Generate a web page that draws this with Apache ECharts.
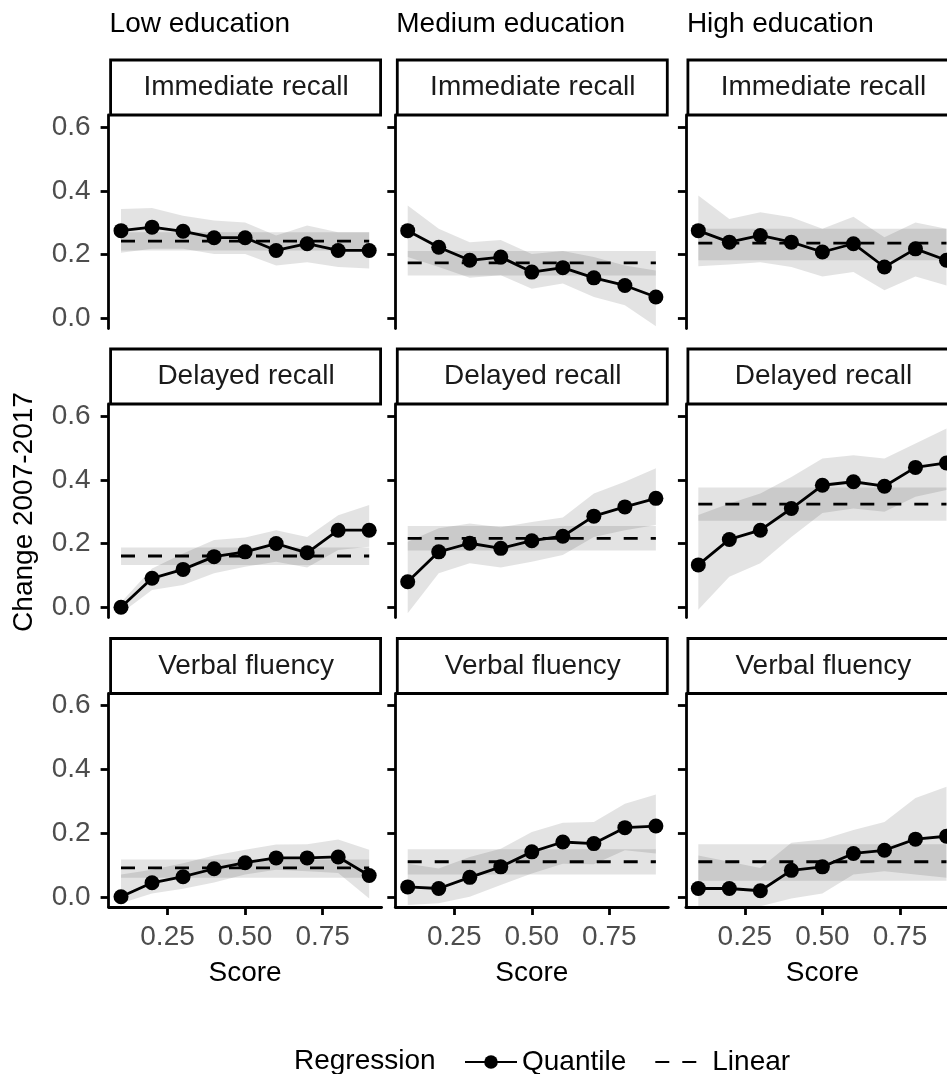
<!DOCTYPE html>
<html>
<head>
<meta charset="utf-8">
<script src="https://cdn.jsdelivr.net/npm/echarts@6/dist/echarts.min.js"></script>
<style>
  html, body { margin: 0; padding: 0; background: #fff; }
  #chart { width: 947px; height: 1074px; }
</style>
</head>
<body>
<div id="chart"></div>
<script>
// score quantiles on the x axis
const scores = [0.1, 0.2, 0.3, 0.4, 0.5, 0.6, 0.7, 0.8, 0.9];
const educationLevels = ['Low education', 'Medium education', 'High education'];
const tests = ['Immediate recall', 'Delayed recall', 'Verbal fluency'];
const yTicks = [0, 0.2, 0.4, 0.6];
const xTicks = [0.25, 0.5, 0.75];

// quantile regression: estimate, lower and upper CI
const lowImmEst = [0.275, 0.286, 0.273, 0.253, 0.253, 0.213, 0.234, 0.213, 0.213];
const lowImmLo = [0.206, 0.218, 0.218, 0.202, 0.202, 0.166, 0.176, 0.161, 0.156];
const lowImmHi = [0.343, 0.346, 0.322, 0.307, 0.301, 0.260, 0.291, 0.270, 0.270];
const lowDelEst = [0.0, 0.091, 0.119, 0.159, 0.174, 0.200, 0.171, 0.242, 0.242];
const lowDelLo = [-0.019, 0.054, 0.070, 0.107, 0.127, 0.143, 0.125, 0.180, 0.190];
const lowDelHi = [0.015, 0.122, 0.169, 0.211, 0.219, 0.242, 0.221, 0.289, 0.321];
const lowVerEst = [0.0, 0.044, 0.063, 0.088, 0.107, 0.122, 0.122, 0.125, 0.067];
const lowVerLo = [-0.020, 0.010, 0.025, 0.045, 0.070, 0.085, 0.080, 0.075, -0.005];
const lowVerHi = [0.070, 0.085, 0.105, 0.130, 0.148, 0.164, 0.165, 0.180, 0.148];

const medImmEst = [0.275, 0.223, 0.182, 0.192, 0.145, 0.159, 0.127, 0.103, 0.067];
const medImmLo = [0.192, 0.161, 0.127, 0.135, 0.093, 0.109, 0.067, 0.041, -0.025];
const medImmHi = [0.354, 0.281, 0.239, 0.246, 0.202, 0.211, 0.192, 0.166, 0.150];
const medDelEst = [0.080, 0.174, 0.201, 0.185, 0.209, 0.223, 0.286, 0.315, 0.342];
const medDelLo = [-0.019, 0.107, 0.138, 0.125, 0.143, 0.164, 0.221, 0.242, 0.258];
const medDelHi = [0.206, 0.248, 0.263, 0.251, 0.268, 0.282, 0.357, 0.394, 0.436];
const medVerEst = [0.031, 0.026, 0.061, 0.094, 0.141, 0.172, 0.167, 0.217, 0.222];
const medVerLo = [-0.026, -0.020, 0.0, 0.037, 0.073, 0.104, 0.102, 0.146, 0.136];
const medVerHi = [0.104, 0.089, 0.125, 0.151, 0.203, 0.232, 0.235, 0.292, 0.321];

const highImmEst = [0.275, 0.239, 0.260, 0.239, 0.208, 0.234, 0.161, 0.218, 0.182];
const highImmLo = [0.163, 0.169, 0.176, 0.161, 0.131, 0.145, 0.088, 0.131, 0.103];
const highImmHi = [0.385, 0.312, 0.333, 0.317, 0.281, 0.319, 0.254, 0.301, 0.281];
const highDelEst = [0.133, 0.213, 0.242, 0.310, 0.383, 0.394, 0.380, 0.439, 0.453];
const highDelLo = [-0.008, 0.096, 0.138, 0.221, 0.296, 0.310, 0.300, 0.347, 0.368];
const highDelHi = [0.290, 0.326, 0.357, 0.409, 0.467, 0.477, 0.467, 0.514, 0.561];
const highVerEst = [0.026, 0.026, 0.019, 0.083, 0.094, 0.136, 0.146, 0.181, 0.190];
const highVerLo = [-0.030, -0.030, -0.030, -0.005, 0.010, 0.070, 0.080, 0.070, 0.060];
const highVerHi = [0.130, 0.110, 0.090, 0.170, 0.180, 0.210, 0.235, 0.310, 0.345];

// linear regression: [estimate, lower, upper] per test
const lowLinear = [[0.242, 0.213, 0.270], [0.161, 0.133, 0.188], [0.091, 0.060, 0.117]];
const medLinear = [[0.174, 0.134, 0.211], [0.216, 0.178, 0.255], [0.110, 0.070, 0.149]];
const highLinear = [[0.236, 0.182, 0.281], [0.324, 0.272, 0.376], [0.110, 0.050, 0.165]];

const quantile = [
  [[lowImmEst, lowImmLo, lowImmHi], [lowDelEst, lowDelLo, lowDelHi], [lowVerEst, lowVerLo, lowVerHi]],
  [[medImmEst, medImmLo, medImmHi], [medDelEst, medDelLo, medDelHi], [medVerEst, medVerLo, medVerHi]],
  [[highImmEst, highImmLo, highImmHi], [highDelEst, highDelLo, highDelHi], [highVerEst, highVerLo, highVerHi]]
];
const linear = [lowLinear, medLinear, highLinear];

const font = 'Liberation Sans';
const fontSize = 28;
const colLeft = [108.6, 395.3, 685.9];
const rowTop = [115, 404, 693.5];
const panelW = 273;
const panelH = 213.5;
const stripH = 55;
const ribbonFill = 'rgba(0,0,0,0.11)';
const lineW = 2.8;

const chart = echarts.init(document.getElementById('chart'));

const grids = [], xAxes = [], yAxes = [], series = [], graphics = [];

function ribbon(idx, lo, hi) {
  return {
    type: 'custom',
    xAxisIndex: idx,
    yAxisIndex: idx,
    clip: true,
    silent: true,
    z: 1,
    data: [0],
    renderItem: (params, api) => {
      const top = scores.map((s, i) => api.coord([s, hi[i]]));
      const bottom = scores.map((s, i) => api.coord([s, lo[i]])).reverse();
      return {
        type: 'polygon',
        shape: { points: top.concat(bottom) },
        style: { fill: ribbonFill }
      };
    }
  };
}

for (let c = 0; c < 3; c++) {
  graphics.push({
    type: 'text',
    x: colLeft[c] + 1,
    y: 24,
    style: { text: educationLevels[c], font: fontSize + 'px "' + font + '"', fill: '#000', verticalAlign: 'middle' }
  });
  for (let r = 0; r < 3; r++) {
    const idx = c * 3 + r;
    const [est, lo, hi] = quantile[c][r];
    const [linEst, linLo, linHi] = linear[c][r];
    const bottomRow = r === 2;

    // the right column runs past the window, as in the cropped original
    grids.push({
      left: colLeft[c], top: rowTop[r], width: panelW, height: panelH,
      outerBoundsMode: 'none'
    });
    xAxes.push({
      gridIndex: idx,
      type: 'value',
      min: 0.06,
      max: 0.94,
      splitLine: { show: false },
      axisLine: { show: bottomRow, onZero: false, lineStyle: { color: '#000', width: lineW } },
      axisTick: { show: bottomRow, customValues: xTicks, length: 8, lineStyle: { color: '#000', width: lineW } },
      axisLabel: {
        show: bottomRow, customValues: xTicks, margin: 16,
        color: '#4d4d4d', fontFamily: font, fontSize: fontSize,
        formatter: v => v.toFixed(2)
      },
      name: bottomRow ? 'Score' : '',
      nameLocation: 'middle',
      nameGap: 52,
      nameTextStyle: { color: '#000', fontFamily: font, fontSize: fontSize }
    });
    yAxes.push({
      gridIndex: idx,
      type: 'value',
      min: -0.032,
      max: 0.638,
      splitLine: { show: false },
      axisLine: { show: true, onZero: false, lineStyle: { color: '#000', width: lineW } },
      axisTick: { show: true, customValues: yTicks, length: 8, lineStyle: { color: '#000', width: lineW } },
      axisLabel: {
        show: c === 0, customValues: yTicks, margin: 18,
        color: '#4d4d4d', fontFamily: font, fontSize: fontSize,
        formatter: v => v.toFixed(1)
      }
    });

    series.push(ribbon(idx, lo, hi));
    series.push(ribbon(idx, scores.map(() => linLo), scores.map(() => linHi)));
    series.push({
      name: 'Linear',
      type: 'line',
      xAxisIndex: idx,
      yAxisIndex: idx,
      data: [[scores[0], linEst], [scores[scores.length - 1], linEst]],
      symbol: 'none',
      silent: true,
      z: 3,
      lineStyle: { color: '#000', width: lineW, type: [14, 13] },
      itemStyle: { color: '#000' }
    });
    series.push({
      name: 'Quantile',
      type: 'line',
      xAxisIndex: idx,
      yAxisIndex: idx,
      data: scores.map((s, i) => [s, est[i]]),
      symbol: 'circle',
      symbolSize: 15,
      showSymbol: true,
      silent: true,
      z: 4,
      lineStyle: { color: '#000', width: lineW },
      itemStyle: { color: '#000' }
    });

    // strip label box
    graphics.push({
      type: 'rect',
      shape: { x: colLeft[c] + 2, y: rowTop[r] - stripH, width: panelW - 3, height: stripH },
      style: { fill: '#fff', stroke: '#000', lineWidth: lineW }
    });
    graphics.push({
      type: 'text',
      x: colLeft[c] + 1 + panelW / 2,
      y: rowTop[r] - stripH / 2,
      style: { text: tests[r], font: fontSize + 'px "' + font + '"', fill: '#1a1a1a', align: 'center', verticalAlign: 'middle' }
    });
  }
}

graphics.push({
  type: 'text',
  x: 24,
  y: 512,
  rotation: Math.PI / 2,
  style: { text: 'Change 2007-2017', font: fontSize + 'px "' + font + '"', fill: '#000', align: 'center', verticalAlign: 'middle' }
});
graphics.push({
  type: 'text',
  x: 294,
  y: 1061,
  style: { text: 'Regression', font: fontSize + 'px "' + font + '"', fill: '#000', verticalAlign: 'middle' }
});

chart.setOption({
  animation: false,
  backgroundColor: '#fff',
  grid: grids,
  xAxis: xAxes,
  yAxis: yAxes,
  series: series,
  graphic: graphics,
  legend: {
    data: [
      { name: 'Quantile' },
      { name: 'Linear', itemStyle: { opacity: 0 } }
    ],
    left: 459,
    top: 1043,
    itemWidth: 52,
    itemHeight: 17,
    itemGap: 28,
    textStyle: { color: '#000', fontFamily: font, fontSize: fontSize },
    selectedMode: false
  }
});
</script>
</body>
</html>
